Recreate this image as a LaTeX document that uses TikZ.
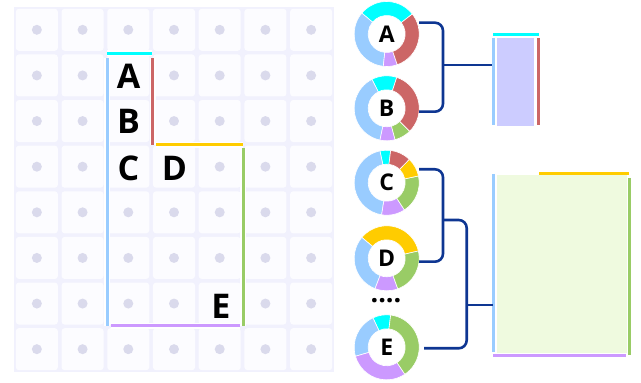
\documentclass[tikz,border=0pt]{standalone}
\usepackage{fontspec}
\setmainfont{Open Sans}
\usetikzlibrary{calc}
\definecolor{cyanc}{HTML}{00FFFF}
\definecolor{bluec}{HTML}{99CCFF}
\definecolor{redc}{HTML}{CC6666}
\definecolor{yelc}{HTML}{FFCC00}
\definecolor{grnc}{HTML}{99CC66}
\definecolor{purc}{HTML}{CC99FF}
\definecolor{navyc}{HTML}{0E3692}
\definecolor{dotc}{HTML}{DADAEC}
\definecolor{cellbg}{HTML}{F1F1FD}
\definecolor{cellin}{HTML}{FCFCFF}
\definecolor{boxone}{HTML}{CCCCFF}
\definecolor{boxtwo}{HTML}{EFFADF}
\newcommand\dseg[4]{%
  \fill[#4, draw=white, line width=0.6pt] ($(#1)+(#2:32.5)$) arc[start angle=#2, end angle=#3, radius=32.5]
    -- ($(#1)+(#3:18.5)$) arc[start angle=#3, end angle=#2, radius=18.5] -- cycle;}
\begin{document}
\begin{tikzpicture}[x=1pt,y=1pt,
  edgeline/.style={line width=3pt},
  halo/.style={white, line width=6pt},
  conn/.style={draw=navyc, line width=2.6pt, rounded corners=8pt},
  gridletter/.style={font=\fontsize{34}{40}\selectfont\bfseries, inner sep=0pt},
  donutletter/.style={font=\fontsize{23}{28}\selectfont\bfseries, inner sep=0pt}]
\useasboundingbox (0,0) rectangle (641,383);
% grid
\fill[cellbg] (14,11) rectangle (334,376);
\foreach \i in {0,...,6} \foreach \j in {0,...,7} {
  \pgfmathsetmacro\cx{14+45.714*(\i+0.5)}
  \pgfmathsetmacro\cy{376-45.625*(\j+0.5)}
  \fill[cellin, rounded corners=3pt] (\cx-21,\cy-21) rectangle (\cx+21,\cy+21);
  \pgfmathtruncatemacro\noDot{((\i==2)&&(\j>=1)&&(\j<=3)) || ((\i==3)&&(\j==3)) || ((\i==4)&&(\j==6))}
  \ifnum\noDot=0 \fill[dotc] (\cx,\cy) circle[radius=5]; \fi
}
% outline with halos
\foreach \a/\b/\c in {{107,329.5}/{152,329.5}/cyanc, {107,325}/{107,57}/bluec, {152.5,325}/{152.5,238}/redc,
  {156,238}/{243,238}/yelc, {243,235}/{243,57}/grnc, {111,57}/{240,57}/purc} {
  \draw[halo] (\a) -- (\b);
}
\foreach \a/\b/\c in {{107,329.5}/{152,329.5}/cyanc, {107,325}/{107,57}/bluec, {152.5,325}/{152.5,238}/redc,
  {156,238}/{243,238}/yelc, {243,235}/{243,57}/grnc, {111,57}/{240,57}/purc} {
  \draw[edgeline, \c] (\a) -- (\b);
}
\node[gridletter] (gA) at (128.5,307) {A};
\node[gridletter] (gB) at (128.5,261.7) {B};
\node[gridletter] (gC) at (128.5,215) {C};
\node[gridletter] (gD) at (174.5,215) {D};
\node[gridletter] (gE) at (221,76.3) {E};
% donuts
\coordinate (cA) at (386.7,349);
\coordinate (cB) at (386.7,274.7);
\coordinate (cC) at (386.7,200.3);
\coordinate (cD) at (386.7,124.7);
\coordinate (cE) at (386.7,35.7);
\dseg{cA}{38}{140}{cyanc}\dseg{cA}{140}{264}{bluec}\dseg{cA}{264}{289}{purc}\dseg{cA}{-71}{38}{redc}
\dseg{cB}{72}{117}{cyanc}\dseg{cB}{117}{258}{bluec}\dseg{cB}{258}{285}{purc}\dseg{cB}{-75}{-45}{grnc}\dseg{cB}{-45}{72}{redc}
\dseg{cC}{83}{102}{cyanc}\dseg{cC}{102}{261}{bluec}\dseg{cC}{261}{303}{purc}\dseg{cC}{-57}{12}{grnc}\dseg{cC}{12}{46}{yelc}\dseg{cC}{46}{83}{redc}
\dseg{cD}{13}{140}{yelc}\dseg{cD}{140}{249}{bluec}\dseg{cD}{249}{290}{purc}\dseg{cD}{-70}{13}{grnc}
\dseg{cE}{83}{115}{cyanc}\dseg{cE}{115}{196}{bluec}\dseg{cE}{196}{304}{purc}\dseg{cE}{-56}{83}{grnc}
\node[donutletter] (dA) at (cA) {A};
\node[donutletter] (dB) at (cB) {B};
\node[donutletter] (dC) at (cC) {C};
\node[donutletter] (dD) at (cD) {D};
\node[donutletter] (dE) at (cE) {E};
\node[font=\fontsize{27}{30}\selectfont\bfseries, inner sep=0pt, anchor=base] (dots) at (386,80) {....};
% boxes
\fill[boxone] (496.7,344.7) rectangle (534.3,257);
\draw[edgeline, cyanc] (493,348.7) -- (539,348.7);
\draw[edgeline, bluec] (493.3,345) -- (493.3,258);
\draw[edgeline, redc] (538.3,345) -- (538.3,258);
\fill[boxtwo] (496.7,207.5) rectangle (626.7,30.3);
\draw[edgeline, bluec] (493.3,209) -- (493.3,31);
\draw[edgeline, yelc] (539,209) -- (629.3,209);
\draw[edgeline, grnc] (629.3,205) -- (629.3,28);
\draw[edgeline, purc] (493,27.3) -- (625.7,27.3);
\coordinate (boxOne) at (492,318);
\coordinate (boxTwo) at (493.3,78);
% connectors
\coordinate (oA) at (419,360.3);
\coordinate (oB) at (419,271.3);
\coordinate (oC) at (419,213.7);
\coordinate (oD) at (419,121.3);
\coordinate (oE) at (424,34.7);
\coordinate (jAB) at (443,318);
\coordinate (jCD) at (443,163);
\coordinate (jCDE) at (466.7,78);
\draw[conn] (oA) -| (jAB) |- (oB);
\draw[conn] (jAB) -- (boxOne);
\draw[conn] (oC) -| (jCD) |- (oD);
\draw[conn] (jCD) -| (jCDE) |- (oE);
\draw[conn] (jCDE) -- (boxTwo);
\end{tikzpicture}
\end{document}
